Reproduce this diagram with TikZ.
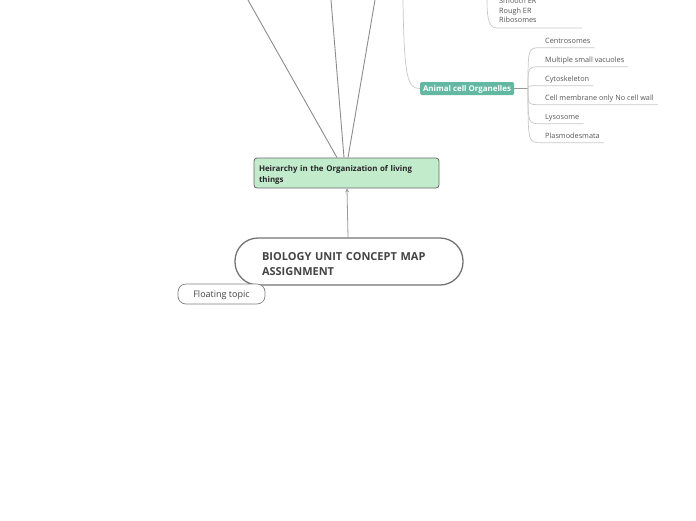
\documentclass[tikz,border=0pt]{standalone}
\usepackage{fontspec}
\setmainfont{Open Sans}
\usetikzlibrary{arrows.meta}
\definecolor{teal}{HTML}{62B8A0}
\definecolor{mint}{HTML}{C2EBCC}
\definecolor{txt}{HTML}{444444}
\definecolor{leaftxt}{HTML}{555555}
\tikzset{
  trunk/.style={draw=black!45, line width=0.9pt},
  leafline/.style={draw=black!22, line width=0.7pt},
  central/.style={draw=black!55, line width=1.3pt, fill=white, rounded corners=23pt,
    minimum width=228pt, minimum height=47pt, inner sep=0pt, text width=174pt, align=left,
    font=\fontsize{11}{15}\selectfont\bfseries, text=txt},
  mainbox/.style={draw=black!60, line width=0.8pt, fill=mint, rounded corners=3pt,
    minimum width=185pt, minimum height=30pt, inner sep=0pt, text width=175pt, align=left,
    font=\fontsize{7.9}{11}\selectfont\bfseries, text=black!85},
  subbox/.style={fill=teal, rounded corners=1.5pt, minimum width=94pt, minimum height=13pt,
    inner sep=0pt, text height=5.6pt, text depth=0pt, font=\fontsize{7.9}{8}\selectfont\bfseries, text=white},
  floatbox/.style={draw=black!50, line width=0.7pt, fill=white, rounded corners=8pt,
    minimum width=87pt, minimum height=20pt, inner sep=0pt, text height=6.5pt, text depth=0pt,
    font=\fontsize{9}{10}\selectfont, text=txt},
  leaf/.style={anchor=west, inner xsep=4pt, inner ysep=0pt, minimum height=15pt,
    text height=7pt, text depth=0pt,
    font=\fontsize{7.3}{8}\selectfont, text=leaftxt},
}
\begin{document}
\begin{tikzpicture}[x=1pt,y=-1pt]
\useasboundingbox (0,0) rectangle (696,520);

% off-canvas ends
\coordinate (t1) at (248,0);
\coordinate (t2) at (331,0);
\coordinate (t3) at (375,0);
\coordinate (t4) at (403,0);
\coordinate (t5) at (487,0);

% nodes
\node[central] (root) at (349,261.5) {\rule{0pt}{13pt}BIOLOGY UNIT CONCEPT MAP\\ASSIGNMENT};
\node[mainbox] (hier) at (346.5,173) {\rule{0pt}{10pt}Heirarchy in the Organization of living\\things};
\node[floatbox] (float) at (221.5,294) {Floating topic};
\node[subbox] (animal) at (467,88.5) {Animal cell Organelles};
\coordinate (hub) at (528,88.5);

\node[anchor=north west, inner sep=0pt, align=left, font=\fontsize{7.3}{9.5}\selectfont, text=leaftxt]
  (er) at (499,-2) {Smooth ER\\Rough ER\\Ribosomes};

\node[leaf] (c1) at (541,40) {Centrosomes};
\node[leaf] (c2) at (541,59) {Multiple small vacuoles};
\node[leaf] (c3) at (541,78) {Cytoskeleton};
\node[leaf] (c4) at (541,97) {Cell membrane only No cell wall};
\node[leaf] (c5) at (541,116) {Lysosome};
\node[leaf] (c6) at (541,135) {Plasmodesmata};

% connectors
\draw[trunk] (hier.north -| 337,0) -- (t1);
\draw[trunk] (hier.north -| 344,0) -- (t2);
\draw[trunk] (hier.north -| 348,0) -- (t3);
\draw[draw=black!40, line width=0.8pt, -{Stealth[open,length=4pt,width=4pt]}]
  (root.north -| 348,0) -- (hier.south -| 347,0);

\draw[leafline] (t4) .. controls (404,80) and (408,88.5) .. (animal.west);
\draw[leafline] (t5) .. controls (487,22) and (490,28) .. (497,28) -- (582,28);

\draw[draw=black!40, line width=1.6pt] (animal.east) -- (hub);
\foreach \c in {c1,c2,c3,c4,c5,c6}{
  \draw[leafline] (hub) .. controls (hub |- \c.south west) .. (\c.south west) -- (\c.south east);
}
\end{tikzpicture}
\end{document}
